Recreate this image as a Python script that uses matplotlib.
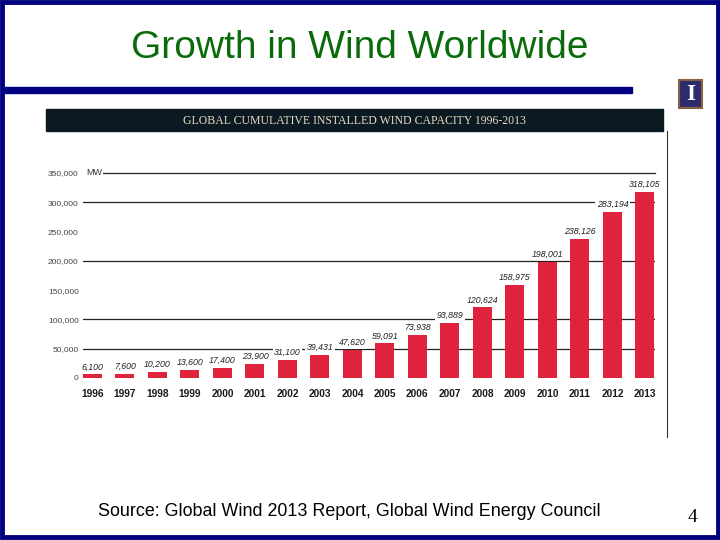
import matplotlib
matplotlib.use("Agg")
import matplotlib.pyplot as plt
from matplotlib.patches import Rectangle

years = [str(y) for y in range(1996, 2014)]
capacity = [6100, 7600, 10200, 13600, 17400, 23900, 31100, 39431, 47620, 59091,
            73938, 93889, 120624, 158975, 198001, 238126, 283194, 318105]
capacity_labels = ["6,100", "7,600", "10,200", "13,600", "17,400", "23,900", "31,100",
                   "39,431", "47,620", "59,091", "73,938", "93,889", "120,624",
                   "158,975", "198,001", "238,126", "283,194", "318,105"]
ytick_vals = [0, 50000, 100000, 150000, 200000, 250000, 300000, 350000]
ytick_labels = ["0", "50,000", "100,000", "150,000", "200,000", "250,000", "300,000", "350,000"]
grid_vals = [50000, 100000, 200000, 300000]

W, H = 720, 540
navy = "#000080"
red = "#e0233c"
narrow = "Liberation Sans"

fig = plt.figure(figsize=(7.2, 5.4), dpi=100)
fig.patch.set_facecolor("white")

def px(x0, y0, x1, y1):
    # pixel box -> figure fraction rect
    return [x0 / W, 1 - y1 / H, (x1 - x0) / W, (y1 - y0) / H]

# slide decorations
bg = fig.add_axes([0, 0, 1, 1])
bg.set_xlim(0, W)
bg.set_ylim(H, 0)
bg.axis("off")
bg.add_patch(Rectangle((1.5, 1.5), W - 4, H - 4.5, fill=False, ec=navy, lw=3.5))
bg.add_patch(Rectangle((3, 87), 629, 6, color=navy))
bg.add_patch(Rectangle((679, 80), 23, 28, fc="#2b2b6e", ec="#8a6040", lw=1.5))
bg.text(690.5, 94.5, "I", color="white", family="Liberation Serif", fontsize=17,
        ha="center", va="center", fontweight="bold")
bg.text(360, 48, "Growth in Wind Worldwide", color="#0a6b0a", family="Liberation Sans",
        fontsize=28, ha="center", va="center")
bg.add_patch(Rectangle((46, 109), 617, 22, color="#0b1a22"))
bg.text(354, 121, "GLOBAL CUMULATIVE INSTALLED WIND CAPACITY 1996-2013", color="#e8dcc0",
        family="Liberation Serif", fontsize=8.5, ha="center", va="center")
bg.plot([667, 667], [131, 437], color="#333333", lw=0.8)
bg.text(349, 512, "Source: Global Wind 2013 Report, Global Wind Energy Council",
        family="Liberation Sans", fontsize=12.9, ha="center", va="center", color="black")
bg.text(693, 517, "4", family="Liberation Serif", fontsize=14, ha="center", va="center")

# chart
ax = fig.add_axes(px(83, 173, 655, 378))
x = list(range(len(years)))
ax.set_xlim(-0.29, 17.31)
ax.set_ylim(0, 350000)
for v in grid_vals:
    ax.axhline(v, color="#222222", lw=0.9, zorder=1)
ax.axhline(350000, xmin=0.03, color="#222222", lw=0.9, zorder=1, clip_on=False)
ax.bar(x, capacity, width=0.585, color=red, zorder=2)
for xi, v, lab in zip(x, capacity, capacity_labels):
    ax.text(xi, v + 5000, lab, ha="center", va="bottom", fontsize=6.3, family=narrow,
            style="italic", color="#222222", zorder=3,
            bbox=dict(fc="white", ec="none", pad=1))
ax.text(-0.2, 350000, "MW", ha="left", va="center", fontsize=6.5, family=narrow,
        color="#333333", bbox=dict(fc="white", ec="none", pad=1), zorder=3)
ax.set_yticks(ytick_vals)
ax.set_yticklabels(ytick_labels, fontsize=6, family=narrow, color="#444444")
ax.set_xticks(x)
ax.set_xticklabels(years, fontsize=7.3, family=narrow, fontweight="bold", color="#1a1a1a")
ax.tick_params(length=0, axis="y", pad=3)
ax.tick_params(length=0, axis="x", pad=8)
for s in ax.spines.values():
    s.set_visible(False)
ax.patch.set_alpha(0)

fig.savefig("out.png", dpi=100)
